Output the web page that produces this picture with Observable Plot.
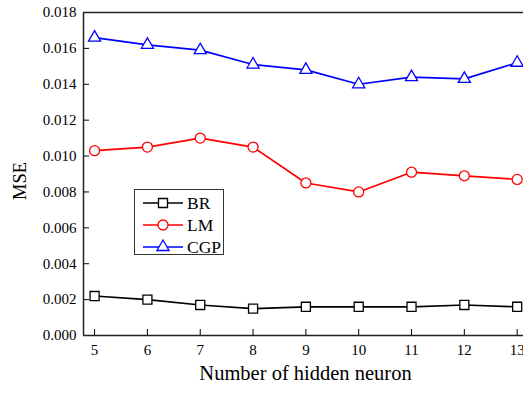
<!DOCTYPE html>
<html>
<head>
<meta charset="utf-8">
<script src="https://cdn.jsdelivr.net/npm/d3@7"></script>
<script src="https://cdn.jsdelivr.net/npm/@observablehq/plot@0.6"></script>
<style>
  html, body { margin: 0; padding: 0; background: #fff; }
  #wrap { position: relative; width: 523px; height: 396px; overflow: hidden; font-family: "Liberation Serif", "Times New Roman", serif; }
  #legend { position: absolute; left: 134px; top: 189px; width: 90px; height: 66px; border: 1px solid #333; background: #fff; box-sizing: border-box; }
  .row { position: absolute; left: 0; height: 20px; display: flex; align-items: center; }
  .row svg { margin-left: 8px; }
  .row span { font-size: 17.5px; margin-left: 4px; color: #000; line-height: 20px; }
</style>
</head>
<body>
<div id="wrap"><div id="legend"></div></div>
<script>
const neurons = [5, 6, 7, 8, 9, 10, 11, 12, 13];
const brValues  = [0.0022, 0.0020, 0.0017, 0.0015, 0.0016, 0.0016, 0.0016, 0.0017, 0.0016];
const lmValues  = [0.0103, 0.0105, 0.0110, 0.0105, 0.0085, 0.0080, 0.0091, 0.0089, 0.0087];
const cgpValues = [0.0166, 0.0162, 0.0159, 0.0151, 0.0148, 0.0140, 0.0144, 0.0143, 0.0152];
const seriesNames = ["BR", "LM", "CGP"];
const seriesColors = ["#000000", "#ff0000", "#0000ff"];
const seriesSymbols = ["square", "circle", "triangle"];
const yTicks = [0, 0.002, 0.004, 0.006, 0.008, 0.010, 0.012, 0.014, 0.016, 0.018];
const xLabel = "Number of hidden neuron";
const yLabel = "MSE";

const xDomain = [4.79, 13.12];
const yDomain = [0, 0.018];

const valuesBySeries = [brValues, lmValues, cgpValues];
const data = [];
seriesNames.forEach((s, si) => neurons.forEach((n, i) => data.push({series: s, n, v: valuesBySeries[si][i]})));

const symR = {square: 5.1, circle: 5, triangle: 4.5};
const marks = [];
seriesNames.forEach((s, si) => {
  const d = data.filter(r => r.series === s);
  marks.push(Plot.line(d, {x: "n", y: "v", stroke: seriesColors[si], strokeWidth: 1.7}));
});
seriesNames.forEach((s, si) => {
  const d = data.filter(r => r.series === s);
  marks.push(Plot.dot(d, {x: "n", y: "v", symbol: () => seriesSymbols[si], r: symR[seriesSymbols[si]],
    stroke: seriesColors[si], fill: "white", strokeWidth: 1.3}));
});

const chart = Plot.plot({
  width: 523,
  height: 396,
  marginLeft: 83,
  marginRight: 0,
  marginTop: 12,
  marginBottom: 61,
  style: {fontFamily: "'Liberation Serif', 'Times New Roman', serif", background: "white", color: "#000"},
  x: {domain: xDomain},
  y: {domain: yDomain},
  symbol: {domain: seriesSymbols, range: seriesSymbols},
  marks: [
    Plot.axisX({ticks: neurons, tickSize: 6, tickPadding: 3, fontSize: 15, label: null, tickFormat: d3.format("d")}),
    Plot.axisY({ticks: yTicks, tickSize: 6, tickPadding: 1, fontSize: 15, label: null, tickFormat: d3.format(".3f")}),
    Plot.ruleX([xDomain[0]], {stroke: "#222", strokeWidth: 1.5}),
    Plot.ruleY([yDomain[0]], {stroke: "#222", strokeWidth: 1.5}),
    Plot.ruleY([yDomain[1]], {stroke: "#222", strokeWidth: 1.5}),
    Plot.text([xLabel], {text: d => d, frameAnchor: "bottom", dy: 44, dx: 2, fontSize: 20.5}),
    Plot.text([yLabel], {text: d => d, frameAnchor: "left", dx: -63, dy: 26, rotate: -90, fontSize: 18.5}),
    ...marks
  ]
});

// ticks point inward
chart.querySelectorAll('[aria-label="y-axis tick"] path').forEach(p => p.setAttribute("d", "M0,0L6,0"));
chart.querySelectorAll('[aria-label="x-axis tick"] path').forEach(p => p.setAttribute("d", "M0,1L0,-6"));

document.getElementById("wrap").prepend(chart);

// legend
const legend = document.getElementById("legend");
const rowTops = [3, 25, 47];
seriesNames.forEach((s, si) => {
  const row = document.createElement("div");
  row.className = "row";
  row.style.top = rowTops[si] + "px";
  const svg = d3.create("svg").attr("width", 40).attr("height", 20);
  svg.append("line").attr("x1", 0).attr("x2", 40).attr("y1", 10).attr("y2", 10)
    .attr("stroke", seriesColors[si]).attr("stroke-width", 1.7);
  const sym = d3.symbol().type(
    seriesSymbols[si] === "square" ? d3.symbolSquare : seriesSymbols[si] === "circle" ? d3.symbolCircle : d3.symbolTriangle
  ).size(Math.PI * symR[seriesSymbols[si]] ** 2);
  svg.append("path").attr("d", sym()).attr("transform", "translate(20,10)")
    .attr("fill", "white").attr("stroke", seriesColors[si]).attr("stroke-width", 1.3);
  row.appendChild(svg.node());
  const sp = document.createElement("span");
  sp.textContent = s;
  row.appendChild(sp);
  legend.appendChild(row);
});
</script>
</body>
</html>
